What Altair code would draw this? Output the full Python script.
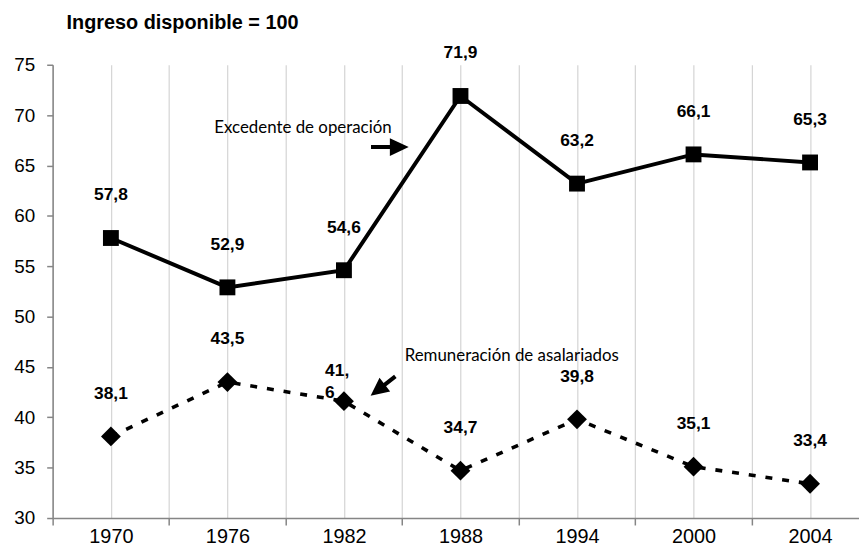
import json
import altair as alt
import pandas as pd

years = ["1970", "1976", "1982", "1988", "1994", "2000", "2004"]
excedente = [57.8, 52.9, 54.6, 71.9, 63.2, 66.1, 65.3]
remuneracion = [38.1, 43.5, 41.6, 34.7, 39.8, 35.1, 33.4]
series_names = ["Excedente de operación", "Remuneración de asalariados"]
title_text = "Ingreso disponible = 100"

rows = []
for name, vals in zip(series_names, [excedente, remuneracion]):
    for i, (yr, v) in enumerate(zip(years, vals)):
        rows.append({"idx": i, "year": yr, "series": name, "value": v,
                     "label": f"{v:.1f}".replace(".", ",")})
df = pd.DataFrame(rows)

# annotation texts (data coordinates)
notes = pd.DataFrame([
    {"idx": 0.887, "value": 68.70, "text": "Excedente de operación"},
    {"idx": 2.521, "value": 46.05, "text": "Remuneración de asalariados"},
])
arrow1 = pd.DataFrame([{"idx": 2.394, "value": 66.83}])
arrow2 = pd.DataFrame([{"idx": 2.335, "value": 43.10}])

W, H = 813, 457
label_font = "Liberation Sans, Arial, sans-serif"
axis_font = "Liberation Sans, Arial, sans-serif"

x_values = [i / 2 for i in range(-1, 13)]
label_expr = "datum.value % 1 === 0 ? " + json.dumps(years) + "[datum.value] : ''"

x_enc = alt.X(
    "idx:Q",
    scale=alt.Scale(domain=[-0.5, 6.42], nice=False, zero=False),
    axis=alt.Axis(
        values=x_values, labelExpr=label_expr, title=None,
        grid=True, gridColor="#d4d4d4", gridWidth=1.2,
        domainColor="#858585", domainWidth=1.5,
        tickColor="#858585", tickWidth=1.5, tickSize=7,
        tickOpacity={"condition": {"test": "datum.value % 1 === 0", "value": 0}, "value": 1},
        labelFont=axis_font, labelFontSize=20, labelColor="#000000",
        labelPadding=1.5, labelOverlap=False, labelFlush=False,
    ),
)
y_enc = alt.Y(
    "value:Q",
    scale=alt.Scale(domain=[30, 75], nice=False, zero=False),
    axis=alt.Axis(
        values=list(range(30, 80, 5)), title=None, grid=False,
        domainColor="#858585", domainWidth=1.5,
        tickColor="#858585", tickWidth=1.5, tickSize=6,
        labelFont=axis_font, labelFontSize=19, labelColor="#000000",
        labelPadding=12,
    ),
)

base = alt.Chart(df).encode(x=x_enc, y=y_enc)
exc = base.transform_filter(alt.datum.series == series_names[0])
rem = base.transform_filter(alt.datum.series == series_names[1])

line_exc = exc.mark_line(color="black", strokeWidth=4)
line_rem = rem.mark_line(color="black", strokeWidth=3.6, strokeDash=[7, 10])
pts_exc = exc.mark_point(shape="square", filled=True, color="black", size=256, opacity=1)
pts_rem = rem.mark_point(shape="diamond", filled=True, color="black", size=400, opacity=1)

labels = base.transform_filter(
    ~((alt.datum.series == series_names[1]) & (alt.datum.idx == 2))
).mark_text(font=label_font, fontWeight="bold", fontSize=17.5, dy=-43,
            baseline="middle", align="center", color="black").encode(text="label:N")

special = base.transform_filter(
    (alt.datum.series == series_names[1]) & (alt.datum.idx == 2)
).transform_calculate(
    wrapped="replace(datum.label, ',', ',|')"
).mark_text(font=label_font, fontWeight="bold", fontSize=17.5, dx=-19, dy=-30,
            lineBreak="|", lineHeight=22, baseline="middle", align="left",
            color="black").encode(text="wrapped:N")

note_layer = alt.Chart(notes).mark_text(
    font="Lato, Open Sans, sans-serif", fontSize=17, align="left",
    baseline="middle", color="black"
).encode(x=x_enc, y=y_enc, text="text:N")

arrow_path1 = "M-1,-0.105L0,-0.105L0,-0.47L1,0L0,0.47L0,0.105L-1,0.105Z"
arrow_path2 = "M-1,-0.13L-0.15,-0.13L-0.15,-0.55L1,0L-0.15,0.55L-0.15,0.13L-1,0.13Z"
arr1 = alt.Chart(arrow1).mark_point(shape=arrow_path1, size=1444, filled=True,
                                    color="black", opacity=1, strokeWidth=0).encode(x=x_enc, y=y_enc)
arr2 = alt.Chart(arrow2).mark_point(shape=arrow_path2, size=1000, angle=142, filled=True,
                                    color="black", opacity=1, strokeWidth=0).encode(x=x_enc, y=y_enc)

title_layer = alt.Chart(pd.DataFrame({"t": [title_text]})).mark_text(
    font=axis_font, fontSize=20, fontWeight="bold", align="left",
    baseline="alphabetic", color="black"
).encode(x=alt.value(14), y=alt.value(-36), text="t:N")

chart = alt.layer(
    line_exc, line_rem, pts_exc, pts_rem, labels, special, note_layer, arr1, arr2, title_layer
).properties(
    width=W, height=H,
    autosize=alt.AutoSizeParams(type="none"),
    padding={"left": 45, "top": 55, "right": 0, "bottom": 28},
).configure_view(stroke=None)

chart.save("out.html", embed_options={"renderer": "svg", "actions": False})
